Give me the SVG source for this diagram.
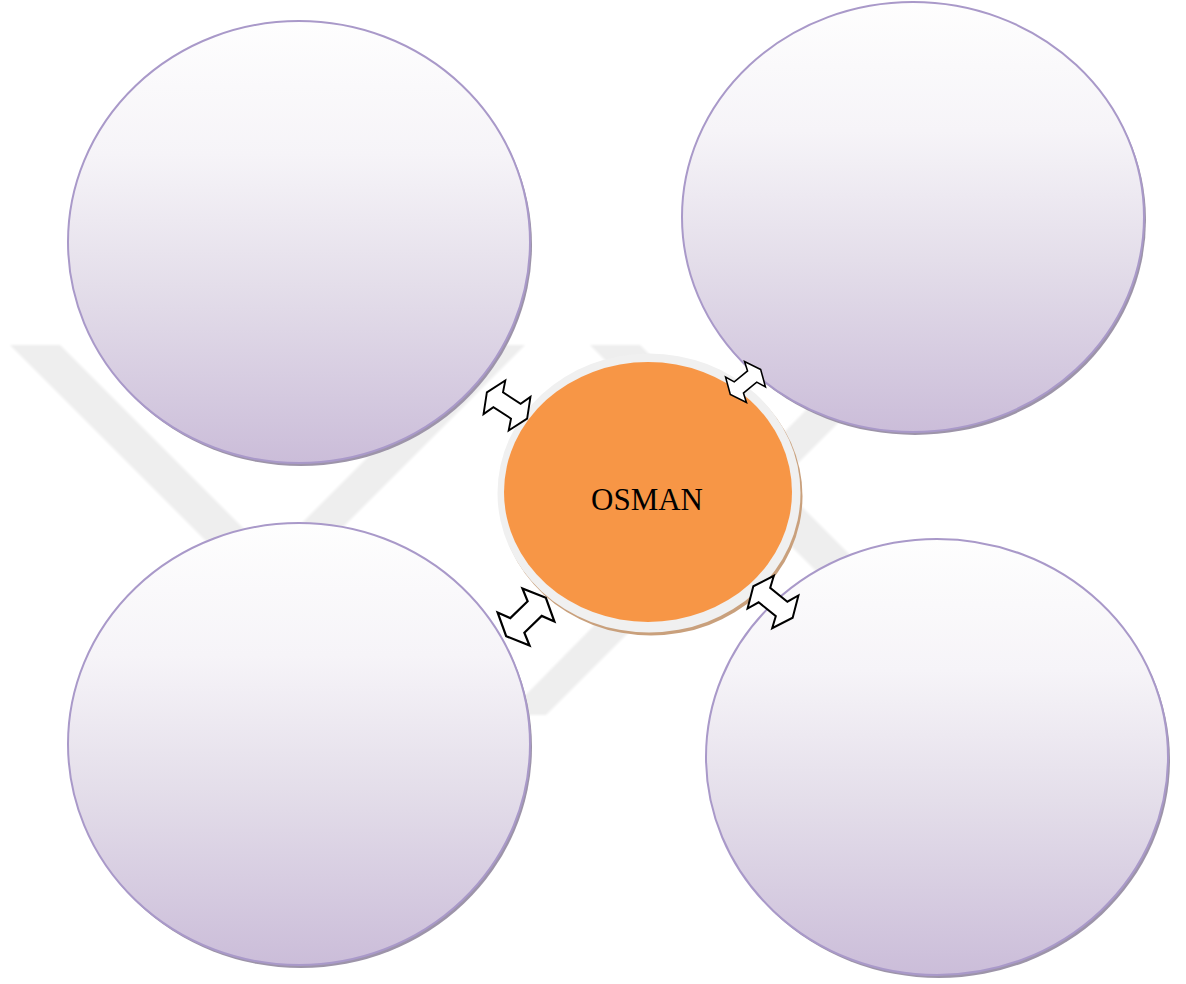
<svg xmlns="http://www.w3.org/2000/svg" width="1186" height="984" viewBox="0 0 1186 984">
  <defs>
    <linearGradient id="lavender" x1="0" y1="0" x2="0" y2="1">
      <stop offset="0" stop-color="#fefefe"/>
      <stop offset="0.3" stop-color="#f6f4f8"/>
      <stop offset="0.6" stop-color="#e4deea"/>
      <stop offset="1" stop-color="#cbbdd9"/>
    </linearGradient>
    <filter id="soft" x="-5%" y="-5%" width="110%" height="110%">
      <feGaussianBlur stdDeviation="1.2"/>
    </filter>
    <!-- double-headed block arrow, axis along x -->
    <polygon id="dblArrow" points="24,0 15,-20 10.5,-8.8 -10.5,-8.8 -15,-20 -24,0 -15,20 -10.5,8.8 10.5,8.8 15,20"/>
  </defs>
  <style>
    .mark { fill: #eeeeee; }
    .shadow { fill: #9d94a9; }
    .bubble { fill: url(#lavender); stroke: #a999c9; stroke-width: 2; }
    .arrow { fill: #ffffff; stroke: #000000; stroke-width: 1.9; stroke-linejoin: miter; }
    .label { font-family: "Liberation Serif", "Times New Roman", serif; font-size: 31px; fill: #000000; }
  </style>

  <rect width="1186" height="984" fill="#ffffff"/>

  <!-- faint background emblem -->
  <g id="emblem" filter="url(#soft)">
    <polygon class="mark" points="10,345 60,345 270,555 480,345 525,345 267.5,602.5"/>
    <polygon class="mark" points="590,345 640,345 935,640 885,640"/>
    <polygon class="mark" points="870,345 916,345 546,715 506,715"/>
  </g>

  <g id="node-top-left">
    <ellipse class="shadow" cx="301" cy="245" rx="231" ry="221"/>
    <ellipse class="bubble" cx="299" cy="242" rx="231" ry="221"/>
  </g>
  <g id="node-top-right">
    <ellipse class="shadow" cx="915" cy="220" rx="231" ry="215"/>
    <ellipse class="bubble" cx="913" cy="217" rx="231" ry="215"/>
  </g>
  <g id="node-bottom-left">
    <ellipse class="shadow" cx="301" cy="747" rx="231" ry="221"/>
    <ellipse class="bubble" cx="299" cy="744" rx="231" ry="221"/>
  </g>
  <g id="node-bottom-right">
    <ellipse class="shadow" cx="939" cy="760" rx="231" ry="218"/>
    <ellipse class="bubble" cx="937" cy="757" rx="231" ry="218"/>
  </g>

  <g id="node-center">
    <ellipse cx="651" cy="496" rx="151.5" ry="139.5" fill="#c9a07c"/>
    <ellipse cx="649" cy="493" rx="151.5" ry="139.5" fill="#f0f0f0"/>
    <ellipse cx="648" cy="492" rx="144" ry="130" fill="#f79646"/>
    <text class="label" x="647" y="510" text-anchor="middle">OSMAN</text>
  </g>

  <g id="connectors">
    <use href="#dblArrow" class="arrow" transform="translate(507,405.5) rotate(33)"/>
    <use href="#dblArrow" class="arrow" transform="translate(745.5,382) rotate(-39.5) scale(0.82)"/>
    <use href="#dblArrow" class="arrow" transform="translate(526,617) rotate(-44) scale(1.15)"/>
    <use href="#dblArrow" class="arrow" transform="translate(773,602) rotate(38.7) scale(1.05)"/>
  </g>
</svg>
